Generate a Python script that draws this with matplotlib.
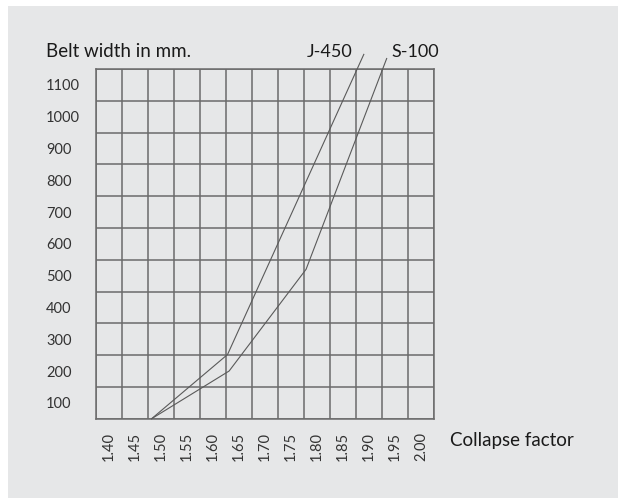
import matplotlib
matplotlib.use("Agg")
import matplotlib.pyplot as plt
from matplotlib.patches import Rectangle
import numpy as np

# ---- data ----
x_labels = ["1.40", "1.45", "1.50", "1.55", "1.60", "1.65", "1.70",
            "1.75", "1.80", "1.85", "1.90", "1.95", "2.00"]
x_values = [1.40, 1.45, 1.50, 1.55, 1.60, 1.65, 1.70,
            1.75, 1.80, 1.85, 1.90, 1.95, 2.00]
y_values = [100, 200, 300, 400, 500, 600, 700, 800, 900, 1000, 1100]
y_labels = [str(v) for v in y_values]

j450_x = [1.482, 1.628, 1.890]
j450_y = [50, 252, 1196]
s100_x = [1.482, 1.631, 1.779, 1.934]
s100_y = [50, 200, 520, 1183]

FONT = "Lato"
W, H = 618, 498
fig = plt.figure(figsize=(W / 100, H / 100), dpi=100)
fig.patch.set_facecolor("white")

# gray panel background
bg = Rectangle((8 / W, 0), 1.0, 1 - 6 / H,
               transform=fig.transFigure, facecolor="#E6E7E8",
               edgecolor="none", zorder=-10)
fig.add_artist(bg)

left, right, top, bottom = 96, 434, 69, 418.7
ax = fig.add_axes([left / W, 1 - bottom / H, (right - left) / W, (bottom - top) / H])
ax.set_zorder(1)
ax.set_facecolor("none")

ax.set_xlim(1.375, 2.025)
ax.set_ylim(50, 1150)

grid_color = "#6B6B6B"
ax.set_xticks(x_values)
ax.set_xticklabels(x_labels, rotation=90, fontfamily=FONT, fontsize=10.5, color="#333333")
ax.set_yticks(y_values)
ax.set_yticklabels(y_labels, fontfamily=FONT, fontsize=10.5, color="#333333")
ax.set_xticks(np.arange(1.375, 2.03, 0.05), minor=True)
ax.set_yticks(np.arange(50, 1151, 100), minor=True)
ax.tick_params(which="both", length=0)
ax.tick_params(axis="x", pad=9.5)
ax.tick_params(axis="y", pad=36)
for t in ax.get_yticklabels():
    t.set_horizontalalignment("left")
ax.grid(which="minor", color=grid_color, linewidth=1.1)
ax.grid(which="major", visible=False)
for s in ax.spines.values():
    s.set_color(grid_color)
    s.set_linewidth(1.1)
ax.set_axisbelow(True)

line_color = "#5A5A5A"
ax.plot(j450_x, j450_y, color=line_color, linewidth=0.8, clip_on=False, zorder=3)
ax.plot(s100_x, s100_y, color=line_color, linewidth=0.8, clip_on=False, zorder=3)

# texts
base_y = 1 - 57 / H
fig.text(46.5 / W, base_y, "Belt width in mm.", fontfamily=FONT, fontsize=13.5,
         color="#1a1a1a", ha="left", va="baseline")
fig.text(352.5 / W, base_y, "J-450", fontfamily=FONT, fontsize=13,
         color="#1a1a1a", ha="right", va="baseline")
fig.text(391 / W, base_y, "S-100", fontfamily=FONT, fontsize=13,
         color="#1a1a1a", ha="left", va="baseline")
fig.text(450.5 / W, 1 - 446 / H, "Collapse factor", fontfamily=FONT, fontsize=13.5,
         color="#1a1a1a", ha="left", va="baseline")

fig.savefig("out.png", dpi=100, facecolor=fig.get_facecolor())
